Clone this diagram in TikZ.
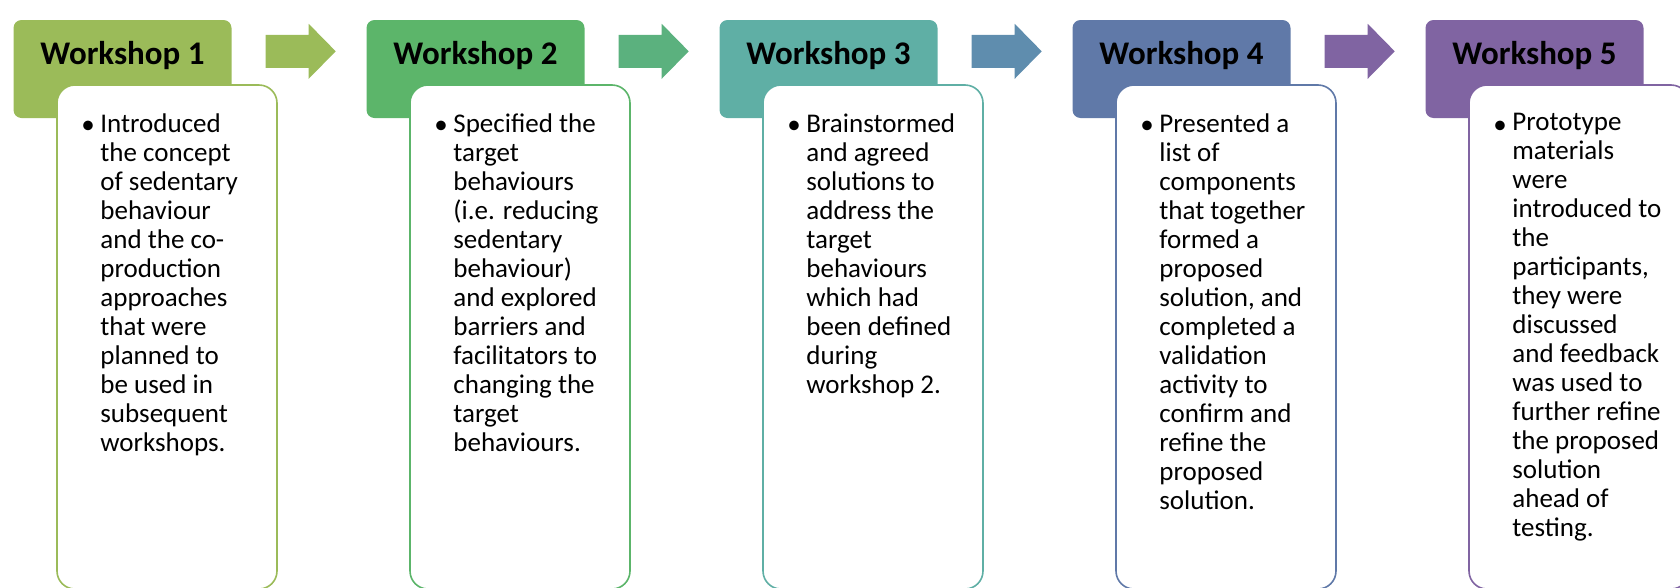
\documentclass[tikz,border=0pt]{standalone}
\usepackage{fontspec}
\setmainfont{Carlito}
\usetikzlibrary{calc}

\definecolor{wsA}{HTML}{9BBB59}
\definecolor{wsB}{HTML}{5CB56A}
\definecolor{wsC}{HTML}{5FAFA5}
\definecolor{wsD}{HTML}{6079A8}
\definecolor{wsE}{HTML}{8064A2}
\definecolor{arA}{HTML}{9BBB59}
\definecolor{arB}{HTML}{5BB17E}
\definecolor{arC}{HTML}{5F8DAE}
\definecolor{arD}{HTML}{8064A2}

\tikzset{
  headbox/.style={rectangle, rounded corners=8pt, minimum width=218pt, minimum height=98pt, inner sep=0pt},
  bodybox/.style={rectangle, rounded corners=18pt, fill=white, line width=1.6pt, minimum width=220pt, minimum height=504pt, inner sep=0pt},
  title/.style={font=\fontsize{33}{36}\selectfont\bfseries, inner sep=0pt},
  bodytext/.style={font=\fontsize{27}{29}\selectfont, align=left, inner sep=0pt}
}

\begin{document}
\begin{tikzpicture}[x=1pt, y=-1pt]
            \useasboundingbox (0,0) rectangle (1680,587);
            \clip (0,0) rectangle (1680,587);

            \foreach \i/\col in {1/wsA,2/wsB,3/wsC,4/wsD,5/wsE} {
            \pgfmathsetmacro{\x}{353*(\i-1)}
            \node[headbox, fill=\col] (head\i) at (\x+122.5, 69) {};
            \node[bodybox, draw=\col] (body\i) at (\x+167, 337) {};
            \node[title, anchor=base] (title\i) at ($(head\i.north)+(0,45)$) {Workshop \i};
            \node[bodytext, anchor=base] (dot\i) at ($(body\i.north west)+(32,49)$) {\textbullet};}

            \foreach \i/\txt in {
              1/{Introduced\\the concept\\of sedentary\\behaviour\\and the co-\\production\\approaches\\that were\\planned to\\be used in\\subsequent\\workshops.},
              2/{Specified the\\target\\behaviours\\(i.e. reducing\\sedentary\\behaviour)\\and explored\\barriers and\\facilitators to\\changing the\\target\\behaviours.},
              3/{Brainstormed\\and agreed\\solutions to\\address the\\target\\behaviours\\which had\\been defined\\during\\workshop 2.},
              4/{Presented a\\list of\\components\\that together\\formed a\\proposed\\solution, and\\completed a\\validation\\activity to\\confirm and\\refine the\\proposed\\solution.},
              5/{Prototype\\materials\\were\\introduced to\\the\\participants,\\they were\\discussed\\and feedback\\was used to\\further refine\\the proposed\\solution\\ahead of\\testing.}} {
            \node[bodytext, anchor=north west] (text\i) at ($(body\i.north west)+(44,29)$) {\txt};}

            % block arrows between the workshops
            \foreach \i/\col in {1/arA,2/arB,3/arC,4/arD} {
            \coordinate (tail\i) at ($(head\i.north east)+(34,15)$);
            \fill[\col] (tail\i) -- ++(43,0) -- ++(0,-11) -- ++(27,27.5) -- ++(-27,27.5) -- ++(0,-11) -- ++(-43,0) -- cycle;}
        \end{tikzpicture}
\end{document}
